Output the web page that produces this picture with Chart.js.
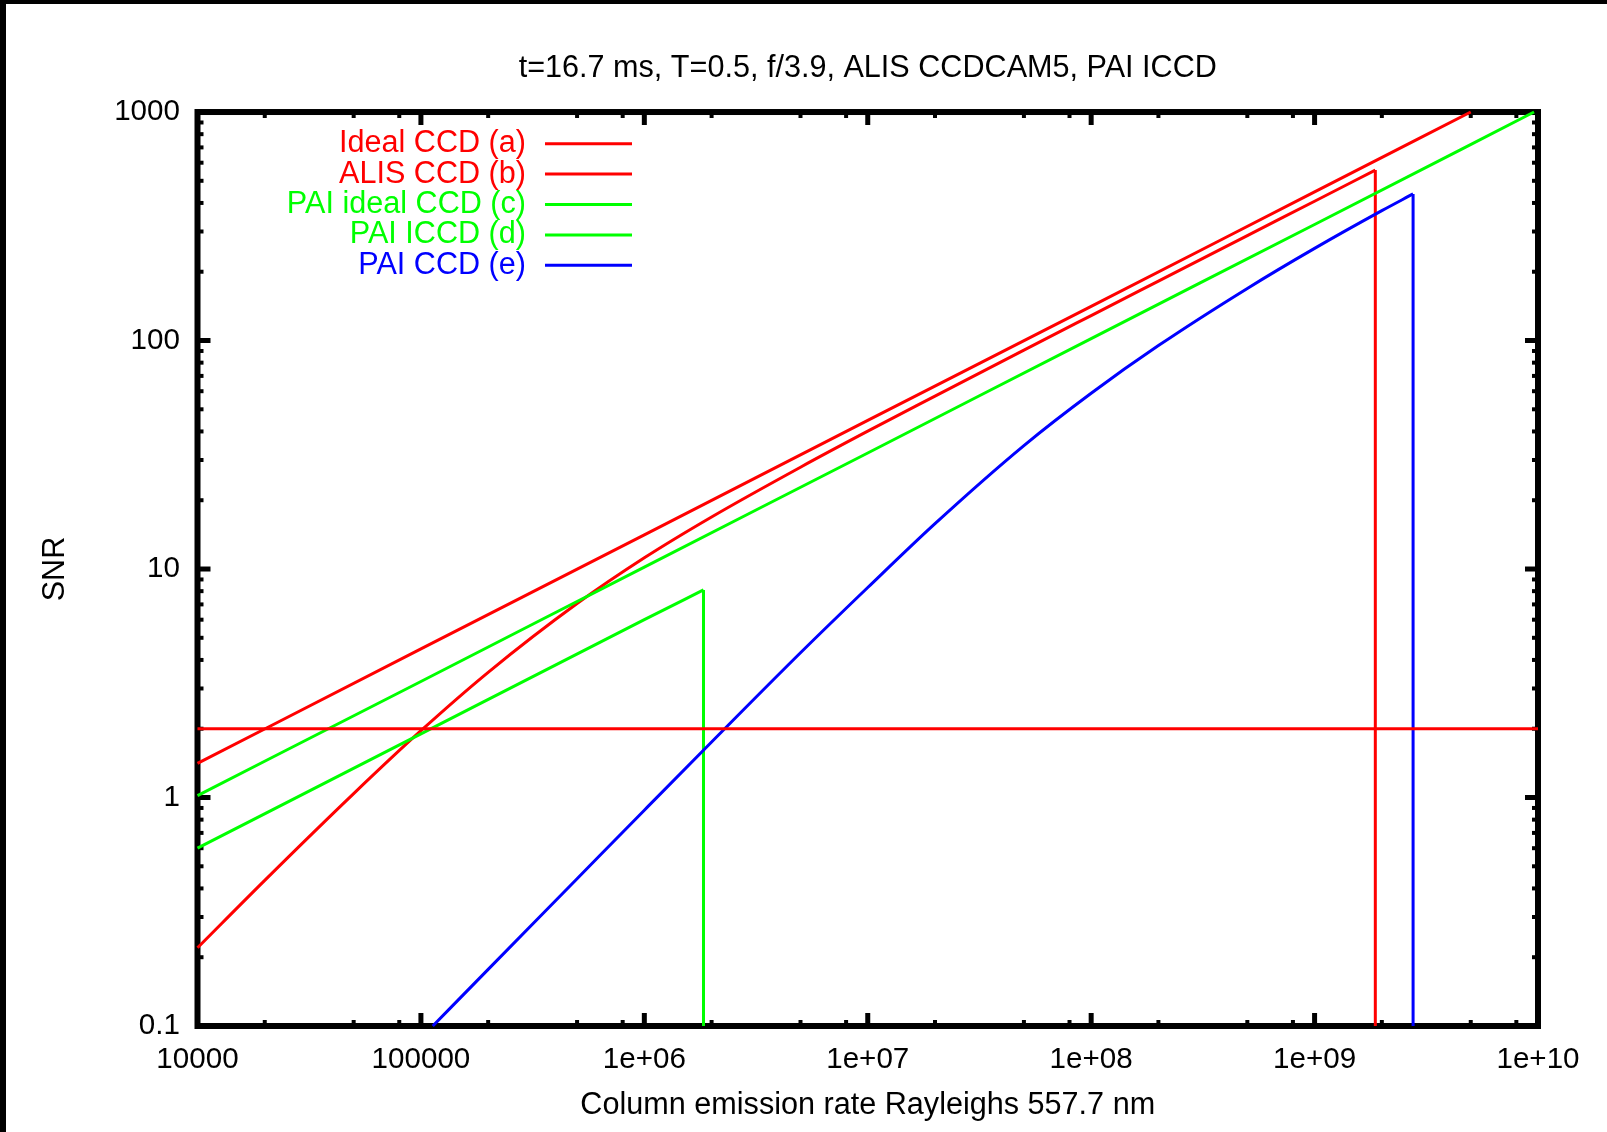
<!DOCTYPE html>
<html>
<head>
<meta charset="utf-8">
<title>SNR vs column emission rate</title>
<script src="https://cdn.jsdelivr.net/npm/chart.js@4.4.1/dist/chart.umd.min.js"></script>
<style>
  html, body { margin: 0; padding: 0; background: #fff; }
  canvas { display: block; }
</style>
</head>
<body>
<canvas id="snr" width="1607" height="1132"></canvas>
<script>
// SNR against column emission rate at 557.7 nm, log-log
// =============================================================

const titleText = 't=16.7 ms, T=0.5, f/3.9, ALIS CCDCAM5, PAI ICCD'
const xTitle = 'Column emission rate Rayleighs 557.7 nm'
const yTitle = 'SNR'

const xTicks = [1e4, 1e5, 1e6, 1e7, 1e8, 1e9, 1e10]
const xTickLabels = ['10000', '100000', '1e+06', '1e+07', '1e+08', '1e+09', '1e+10']
const yTicks = [0.1, 1, 10, 100, 1000]
const yTickLabels = ['0.1', '1', '10', '100', '1000']
const xMinor = [2, 5, 8]
const yMinor = [2, 3, 4, 5, 6, 7, 8, 9]

// (a) ideal CCD
const idealX = [1e4, 1e5, 1e6, 1e7, 1e8, 1e9, 5e9]
const idealSnr = [1.41, 4.47, 14.1, 44.7, 141, 447, 1000]

// (b) ALIS CCD, saturates near 1.87e9
const alisX = [1e4, 2e4, 5e4, 1e5, 2e5, 5e5, 1e6, 2e6, 5e6, 1e7, 2e7, 5e7, 1e8, 2e8, 5e8, 1e9, 1.87e9, 1.87e9]
const alisSnr = [0.22, 0.434, 1.04, 1.96, 3.53, 7.06, 11.2, 16.9, 27.9, 40.1, 57.1, 90.8, 128.6, 182, 288, 407, 557, 0.1]

// (c) PAI ideal CCD
const paiIdealX = [1e4, 1e5, 1e6, 1e7, 1e8, 1e9, 9.6e9]
const paiIdealSnr = [1.02, 3.22, 10.2, 32.2, 102, 322, 1000]

// (d) PAI ICCD, saturates near 1.84e6
const paiIccdX = [1e4, 1e5, 1e6, 1.84e6, 1.84e6]
const paiIccdSnr = [0.6, 1.9, 6.0, 8.1, 0.1]

// (e) PAI CCD, saturates near 2.76e9
const paiCcdX = [1.13e5, 2e5, 5e5, 1e6, 2e6, 5e6, 1e7, 2e7, 5e7, 1e8, 2e8, 5e8, 1e9, 2e9, 2.76e9, 2.76e9]
const paiCcdSnr = [0.1, 0.177, 0.441, 0.88, 1.75, 4.3, 8.3, 15.8, 34.7, 58.8, 95, 169, 253, 370, 438, 0.1]

// detection threshold
const threshX = [1e4, 1e10]
const threshSnr = [2, 2]

const series = [
  { label: 'Ideal CCD (a)', color: '#ff0000', x: idealX, y: idealSnr },
  { label: 'ALIS CCD (b)', color: '#ff0000', x: alisX, y: alisSnr },
  { label: 'PAI ideal CCD (c)', color: '#00ff00', x: paiIdealX, y: paiIdealSnr },
  { label: 'PAI ICCD (d)', color: '#00ff00', x: paiIccdX, y: paiIccdSnr },
  { label: 'PAI CCD (e)', color: '#0000ff', x: paiCcdX, y: paiCcdSnr },
  { label: '', color: '#ff0000', x: threshX, y: threshSnr }
]

const FONT = '"Liberation Sans", Arial, sans-serif'
const TEXT_SIZE = 30.6
const TICK_SIZE = 29.6

// white page with the black strips at top and left
const pagePlugin = {
  id: 'page',
  beforeDraw (chart) {
    const ctx = chart.ctx
    ctx.save()
    ctx.fillStyle = '#fff'
    ctx.fillRect(0, 0, chart.width, chart.height)
    ctx.fillStyle = '#000'
    ctx.fillRect(0, 0, chart.width, 4)
    ctx.fillRect(0, 0, 6, chart.height)
    ctx.restore()
  }
}

// gnuplot-like border with inward ticks on all four sides, under the curves
const framePlugin = {
  id: 'frame',
  beforeDatasetsDraw (chart) {
    const { ctx, chartArea: a, scales } = chart
    const xs = scales.x
    const ys = scales.y
    const line = (x1, y1, x2, y2, w) => {
      ctx.lineWidth = w
      ctx.beginPath()
      ctx.moveTo(x1, y1)
      ctx.lineTo(x2, y2)
      ctx.stroke()
    }
    ctx.save()
    ctx.strokeStyle = '#000'
    ctx.lineCap = 'butt'

    xTicks.forEach(d => {
      xMinor.forEach(m => {
        const v = d * m
        if (v >= xs.max) return
        const p = xs.getPixelForValue(v)
        line(p, a.bottom, p, a.bottom - 6, 4)
        line(p, a.top, p, a.top + 6, 4)
      })
      const p = xs.getPixelForValue(d)
      line(p, a.bottom, p, a.bottom - 13, 5)
      line(p, a.top, p, a.top + 13, 5)
    })

    yTicks.forEach(d => {
      yMinor.forEach(m => {
        const v = d * m
        if (v >= ys.max) return
        const p = ys.getPixelForValue(v)
        line(a.left, p, a.left + 6, p, 4)
        line(a.right, p, a.right - 6, p, 4)
      })
      const p = ys.getPixelForValue(d)
      line(a.left, p, a.left + 13, p, 5)
      line(a.right, p, a.right - 13, p, 5)
    })

    ctx.lineWidth = 6
    ctx.lineJoin = 'miter'
    ctx.strokeRect(a.left, a.top, a.right - a.left, a.bottom - a.top)
    ctx.restore()
  }
}

// key in the upper left corner: text right aligned, sample line to the right
const keyPlugin = {
  id: 'key',
  afterDraw (chart) {
    const { ctx, chartArea: a } = chart
    ctx.save()
    ctx.font = TEXT_SIZE + 'px ' + FONT
    ctx.textAlign = 'right'
    ctx.textBaseline = 'middle'
    let row = 0
    chart.data.datasets.forEach(ds => {
      if (!ds.label) return
      const yy = a.top + 31.7 + row * 30.4
      ctx.fillStyle = ds.borderColor
      ctx.fillText(ds.label, a.left + 328.5, yy)
      ctx.strokeStyle = ds.borderColor
      ctx.lineWidth = 3
      ctx.beginPath()
      ctx.moveTo(a.left + 347.5, yy)
      ctx.lineTo(a.left + 434.5, yy)
      ctx.stroke()
      row++
    })
    ctx.restore()
  }
}

Chart.defaults.font.family = FONT
Chart.defaults.color = '#000'

const toPoints = (xs, ys) => xs.map((v, k) => ({ x: v, y: ys[k] }))

// each series: a smooth curve, plus the vertical drop where the detector saturates
const datasets = []
series.forEach((s, i) => {
  const n = s.x.length
  const drops = n > 2 && s.x[n - 1] === s.x[n - 2]
  const curveEnd = drops ? n - 1 : n
  const base = {
    borderColor: s.color,
    backgroundColor: s.color,
    borderWidth: 3,
    pointRadius: 0,
    fill: false,
    clip: false,
    order: series.length - i
  }
  datasets.push(Object.assign({}, base, {
    label: s.label,
    data: toPoints(s.x.slice(0, curveEnd), s.y.slice(0, curveEnd)),
    cubicInterpolationMode: 'monotone'
  }))
  if (drops) {
    datasets.push(Object.assign({}, base, {
      label: '',
      data: toPoints(s.x.slice(n - 2), s.y.slice(n - 2)),
      tension: 0
    }))
  }
})

new Chart(document.getElementById('snr'), {
  type: 'line',
  data: { datasets },
  options: {
    responsive: false,
    animation: false,
    devicePixelRatio: 1,
    layout: { padding: { left: 0, right: 69, top: 0, bottom: 0 } },
    plugins: {
      legend: { display: false },
      tooltip: { enabled: false },
      title: {
        display: true,
        fullSize: false,
        text: titleText,
        color: '#000',
        font: { size: TEXT_SIZE, weight: 'normal' },
        padding: { top: 50.6, bottom: 24.7 }
      }
    },
    scales: {
      x: {
        type: 'logarithmic',
        position: 'bottom',
        min: 1e4,
        max: 1e10,
        grid: { display: false, drawTicks: false },
        border: { display: false },
        afterBuildTicks: scale => { scale.ticks = xTicks.map(v => ({ value: v })) },
        afterFit: scale => { scale.height = 106 },
        ticks: {
          autoSkip: false,
          maxRotation: 0,
          padding: 15.6,
          font: { size: TICK_SIZE },
          color: '#000',
          callback: (v, i) => xTickLabels[i]
        },
        title: {
          display: true,
          text: xTitle,
          color: '#000',
          font: { size: TEXT_SIZE },
          padding: { top: 0, bottom: 7.6 }
        }
      },
      y: {
        type: 'logarithmic',
        position: 'left',
        min: 0.1,
        max: 1000,
        grid: { display: false, drawTicks: false },
        border: { display: false },
        afterBuildTicks: scale => { scale.ticks = yTicks.map(v => ({ value: v })) },
        afterFit: scale => { scale.width = 197.5 },
        ticks: {
          autoSkip: false,
          padding: 17.5,
          font: { size: TICK_SIZE },
          color: '#000',
          callback: (v, i) => yTickLabels[i]
        },
        title: {
          display: true,
          text: yTitle,
          color: '#000',
          font: { size: TEXT_SIZE },
          padding: { top: 37.1, bottom: 0 }
        }
      }
    }
  },
  plugins: [pagePlugin, framePlugin, keyPlugin]
})
</script>
</body>
</html>
